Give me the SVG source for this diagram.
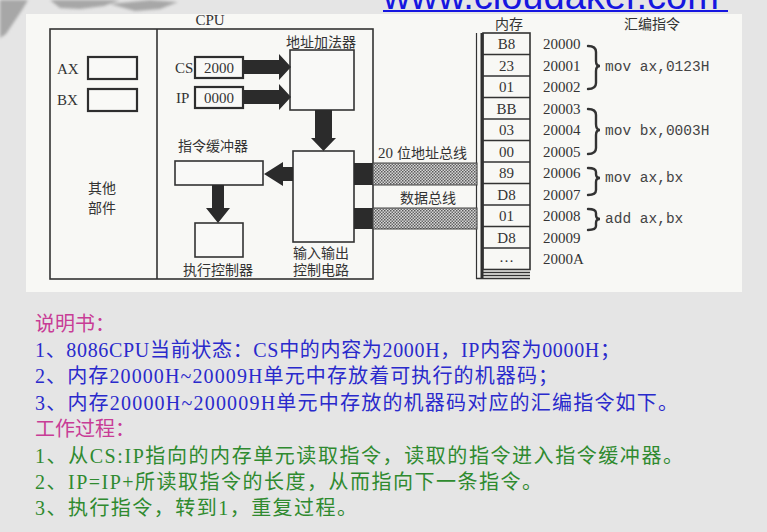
<svg xmlns="http://www.w3.org/2000/svg" width="767" height="532" viewBox="0 0 767 532">
  <defs>
    <style>
      .ln{fill:none;stroke:#333;stroke-width:1.6}
      .box{fill:#f9f9f7;stroke:#333;stroke-width:1.6}
      .reg{fill:#f9f9f7;stroke:#2e2e2e;stroke-width:2.2}
      .blk{fill:#2b2b2b}
      .t{font-family:'Liberation Serif','Noto Sans CJK SC',serif;fill:#333;font-size:15px}
      .cj{font-family:'Noto Sans CJK SC',sans-serif;fill:#333;font-size:14px}
      .asm{font-family:'Liberation Mono',monospace;font-size:14.5px;fill:#444}
      .brace{fill:none;stroke:#333;stroke-width:2.4;stroke-linecap:round}
      .note{font-family:'Liberation Serif','Noto Sans CJK SC',serif;font-size:20px}
      .pink{fill:#c83c96}
      .blue{fill:#2a2acc}
      .green{fill:#2f8a2f}
    </style>
    <pattern id="dots" width="3" height="3" patternUnits="userSpaceOnUse">
      <rect width="3" height="3" fill="#d6d6d6"/>
      <rect width="1.5" height="1.5" fill="#5a5a5a"/>
      <rect x="1.5" y="1.5" width="1.5" height="1.5" fill="#6a6a6a"/>
    </pattern>
    <filter id="soft" x="-20%" y="-20%" width="140%" height="140%">
      <feGaussianBlur stdDeviation="1.5"/>
    </filter>
  </defs>

  <!-- slide background -->
  <rect width="767" height="532" fill="#e5e5e5"/>

  <!-- ink-wash decoration, top left -->
  <g filter="url(#soft)" fill="#7e7e7e" opacity="0.6">
    <path d="M0,0 L28,0 L22,10 L14,22 L6,34 L0,38 Z"/>
    <path d="M50,0 L120,0 L104,6 L80,9 L60,8 Z"/>
    <path d="M110,4 L150,0 L178,2 L160,9 L135,11 Z"/>
  </g>

  <!-- site link -->
  <text x="383" y="8.5" font-family="'Liberation Sans',sans-serif" font-size="38" fill="#1616e0">www.cloudaker.com</text>
  <rect x="383" y="10" width="345" height="2" fill="#1616e0"/>

  <!-- figure panel -->
  <rect x="26" y="14" width="716" height="278" fill="#f8f8f5"/>

  <!-- CPU frame -->
  <g id="cpu">
    <rect class="ln" x="50" y="29" width="323" height="250"/>
    <line class="ln" x1="157" y1="29" x2="157" y2="279"/>
    <text class="t" x="210" y="25" text-anchor="middle">CPU</text>
  </g>

  <g id="other-parts">
    <text class="cj" x="88" y="193">其他</text>
    <text class="cj" x="88" y="213">部件</text>
  </g>

  <g id="reg-ax">
    <text class="t" x="57" y="74">AX</text>
    <rect class="reg" x="88" y="57" width="49" height="22"/>
  </g>
  <g id="reg-bx">
    <text class="t" x="57" y="105">BX</text>
    <rect class="reg" x="88" y="89" width="49" height="22"/>
  </g>

  <g id="reg-cs">
    <text class="t" x="175" y="73">CS</text>
    <rect class="reg" x="195" y="57" width="48" height="21"/>
    <text class="t" x="219" y="73" text-anchor="middle">2000</text>
  </g>
  <g id="reg-ip">
    <text class="t" x="176" y="103">IP</text>
    <rect class="reg" x="195" y="87" width="48" height="21"/>
    <text class="t" x="219" y="103" text-anchor="middle">0000</text>
  </g>

  <g id="adder">
    <text class="cj" x="286" y="46.5">地址加法器</text>
    <rect class="box" x="290" y="50" width="64" height="60"/>
  </g>

  <g id="io-circuit">
    <rect class="box" x="293" y="151" width="61" height="91"/>
    <text class="cj" x="293" y="258">输入输出</text>
    <text class="cj" x="293" y="275">控制电路</text>
  </g>

  <g id="instr-buffer">
    <text class="cj" x="178" y="150.5">指令缓冲器</text>
    <rect class="box" x="175" y="161" width="88" height="24"/>
  </g>

  <g id="exec-ctrl">
    <rect class="box" x="195" y="223" width="48" height="34"/>
    <text class="cj" x="183" y="275">执行控制器</text>
  </g>

  <!-- memory column -->
  <g id="memory">
    <text class="cj" x="495" y="28.5">内存</text>
    <line x1="476.5" y1="33" x2="476.5" y2="279" stroke="#333" stroke-width="1.2"/>
    <rect x="480.5" y="33" width="3" height="246" fill="#2e2e2e"/>
    <rect class="ln" x="483" y="33" width="47" height="236.5" fill="#f9f9f7"/>
    <g class="ln">
      <line x1="483" y1="54.5" x2="530" y2="54.5"/>
      <line x1="483" y1="76" x2="530" y2="76"/>
      <line x1="483" y1="97.5" x2="530" y2="97.5"/>
      <line x1="483" y1="119" x2="530" y2="119"/>
      <line x1="483" y1="140.5" x2="530" y2="140.5"/>
      <line x1="483" y1="162" x2="530" y2="162"/>
      <line x1="483" y1="183.5" x2="530" y2="183.5"/>
      <line x1="483" y1="205" x2="530" y2="205"/>
      <line x1="483" y1="226.5" x2="530" y2="226.5"/>
      <line x1="483" y1="248" x2="530" y2="248"/>
      <line x1="483" y1="272.5" x2="530" y2="272.5"/>
      <line x1="483" y1="275.5" x2="530" y2="275.5"/>
      <line x1="476" y1="278.5" x2="530" y2="278.5"/>
    </g>
    <g class="t" text-anchor="middle">
      <text x="506.5" y="49">B8</text>
      <text x="506.5" y="70.5">23</text>
      <text x="506.5" y="92">01</text>
      <text x="506.5" y="113.5">BB</text>
      <text x="506.5" y="135">03</text>
      <text x="506.5" y="156.5">00</text>
      <text x="506.5" y="178">89</text>
      <text x="506.5" y="199.5">D8</text>
      <text x="506.5" y="221">01</text>
      <text x="506.5" y="242.5">D8</text>
      <text x="506.5" y="262">…</text>
    </g>
    <g class="t">
      <text x="543" y="49">20000</text>
      <text x="543" y="70.5">20001</text>
      <text x="543" y="92">20002</text>
      <text x="543" y="113.5">20003</text>
      <text x="543" y="135">20004</text>
      <text x="543" y="156.5">20005</text>
      <text x="543" y="178">20006</text>
      <text x="543" y="199.5">20007</text>
      <text x="543" y="221">20008</text>
      <text x="543" y="242.5">20009</text>
      <text x="543" y="264">2000A</text>
    </g>
  </g>

  <!-- assembly listing -->
  <g id="asm">
    <text class="cj" x="624" y="28.5">汇编指令</text>
    <path class="brace" d="M588,46 Q596,46 596,52 L596,61 Q596,66 600,66 Q596,66 596,71 L596,83 Q596,89 588,89"/>
    <path class="brace" d="M588,109 Q596,109 596,115 L596,124 Q596,130 600,130 Q596,130 596,135 L596,148 Q596,154 588,154"/>
    <path class="brace" d="M588,168 Q596,168 596,172 L596,174 Q596,178 600,178 Q596,178 596,182 L596,190 Q596,195 588,195"/>
    <path class="brace" d="M588,209 Q596,209 596,213 L596,215 Q596,219 600,219 Q596,219 596,223 L596,226 Q596,230 588,230"/>
    <text class="asm" x="605" y="71">mov ax,0123H</text>
    <text class="asm" x="605" y="135">mov bx,0003H</text>
    <text class="asm" x="605" y="182">mov ax,bx</text>
    <text class="asm" x="605" y="223">add ax,bx</text>
  </g>

  <!-- connectors: block arrows and buses -->
  <g id="connectors">
    <polygon class="blk" points="244,60 279,60 279,54 291,67 279,80 279,74 244,74"/>
    <polygon class="blk" points="244,90 279,90 279,84 291,97 279,110 279,104 244,104"/>
    <polygon class="blk" points="315,110 332,110 332,138 336,138 323.5,151 311,138 315,138"/>
    <polygon class="blk" points="293,167 283,167 283,162 264,174 283,186 283,181 293,181"/>
    <polygon class="blk" points="212,185 224,185 224,208 230,208 218,223 206,208 212,208"/>

    <rect class="blk" x="354" y="163" width="19" height="22"/>
    <rect class="blk" x="354" y="208" width="19" height="21"/>
    <rect x="373" y="163" width="104" height="22" fill="url(#dots)" stroke="#444" stroke-width="1"/>
    <rect x="373" y="208" width="104" height="21" fill="url(#dots)" stroke="#444" stroke-width="1"/>
    <text class="t" x="378" y="158" font-size="14">20</text>
    <text class="cj" x="397" y="158">位地址总线</text>
    <text class="cj" x="400" y="202.5">数据总线</text>
  </g>

  <!-- notes -->
  <g id="notes" class="note">
    <text class="pink" x="35" y="330.5">说明书：</text>
    <text class="blue" x="35" y="357" textLength="585" lengthAdjust="spacing">1、8086CPU当前状态：CS中的内容为2000H，IP内容为0000H；</text>
    <text class="blue" x="35" y="383" textLength="523" lengthAdjust="spacing">2、内存20000H~20009H单元中存放着可执行的机器码；</text>
    <text class="blue" x="35" y="409.5" textLength="643" lengthAdjust="spacing">3、内存20000H~200009H单元中存放的机器码对应的汇编指令如下。</text>
    <text class="pink" x="35" y="436">工作过程：</text>
    <text class="green" x="35" y="462.5" textLength="648" lengthAdjust="spacing">1、从CS:IP指向的内存单元读取指令，读取的指令进入指令缓冲器。</text>
    <text class="green" x="35" y="488.5" textLength="507" lengthAdjust="spacing">2、IP=IP+所读取指令的长度，从而指向下一条指令。</text>
    <text class="green" x="35" y="514.5" textLength="322" lengthAdjust="spacing">3、执行指令，转到1，重复过程。</text>
  </g>
</svg>
